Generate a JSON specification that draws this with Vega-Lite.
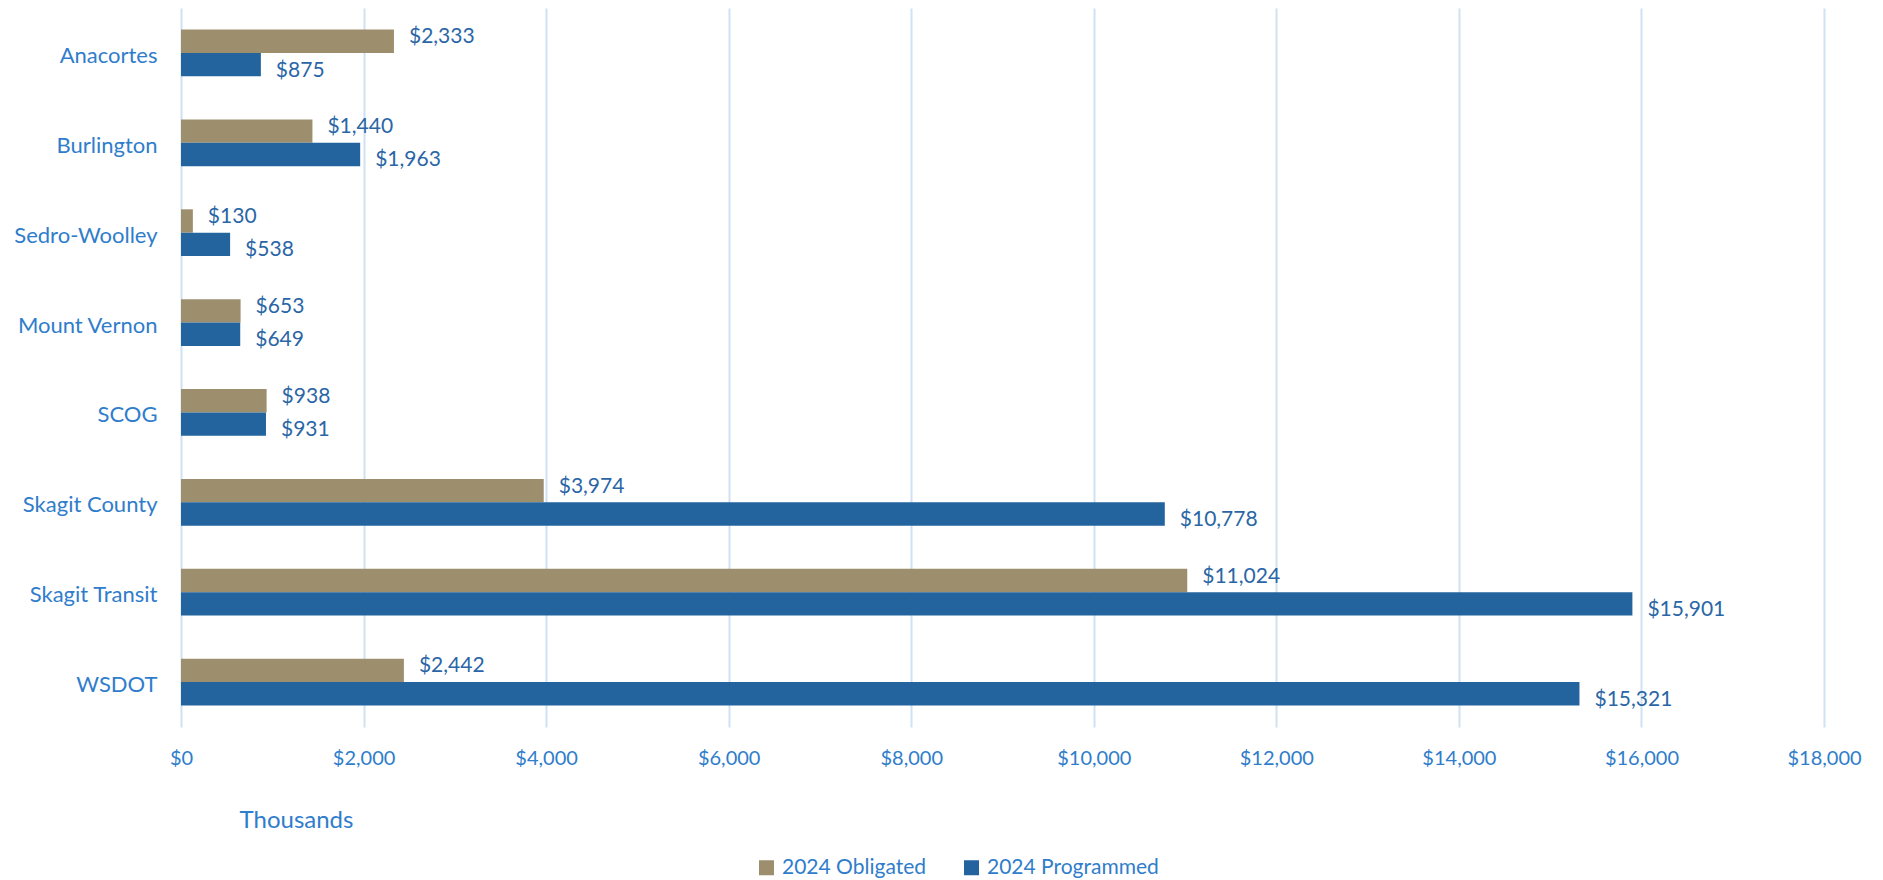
{
  "$schema": "https://vega.github.io/schema/vega-lite/v6.json",
  "width": 1643,
  "height": 719,
  "autosize": {"type": "none"},
  "padding": {"left": 181, "top": 8, "right": 59, "bottom": 153},
  "background": "#ffffff",
  "config": {
    "view": {"stroke": null},
    "font": "Lato"
  },
  "data": {
    "values": [
      {"agency": "Anacortes", "series": "2024 Obligated", "value": 2333},
      {"agency": "Anacortes", "series": "2024 Programmed", "value": 875},
      {"agency": "Burlington", "series": "2024 Obligated", "value": 1440},
      {"agency": "Burlington", "series": "2024 Programmed", "value": 1963},
      {"agency": "Sedro-Woolley", "series": "2024 Obligated", "value": 130},
      {"agency": "Sedro-Woolley", "series": "2024 Programmed", "value": 538},
      {"agency": "Mount Vernon", "series": "2024 Obligated", "value": 653},
      {"agency": "Mount Vernon", "series": "2024 Programmed", "value": 649},
      {"agency": "SCOG", "series": "2024 Obligated", "value": 938},
      {"agency": "SCOG", "series": "2024 Programmed", "value": 931},
      {"agency": "Skagit County", "series": "2024 Obligated", "value": 3974},
      {"agency": "Skagit County", "series": "2024 Programmed", "value": 10778},
      {"agency": "Skagit Transit", "series": "2024 Obligated", "value": 11024},
      {"agency": "Skagit Transit", "series": "2024 Programmed", "value": 15901},
      {"agency": "WSDOT", "series": "2024 Obligated", "value": 2442},
      {"agency": "WSDOT", "series": "2024 Programmed", "value": 15321}
    ]
  },
  "encoding": {
    "y": {
      "field": "agency",
      "type": "nominal",
      "sort": ["Anacortes", "Burlington", "Sedro-Woolley", "Mount Vernon", "SCOG", "Skagit County", "Skagit Transit", "WSDOT"],
      "scale": {"paddingInner": 0.48, "paddingOuter": 0.24},
      "axis": {
        "title": null,
        "ticks": false,
        "tickSize": 0,
        "domain": false,
        "grid": false,
        "labelPadding": 24,
        "labelOffset": 3,
        "labelFont": "Lato",
        "labelFontSize": 22,
        "labelColor": "#2F7DCB",
        "labelLimit": 300
      }
    },
    "yOffset": {
      "field": "series",
      "type": "nominal",
      "sort": ["2024 Obligated", "2024 Programmed"],
      "scale": {"paddingInner": 0, "paddingOuter": 0}
    },
    "x": {
      "field": "value",
      "type": "quantitative",
      "scale": {"domain": [0, 18000], "nice": false},
      "axis": {
        "values": [0, 2000, 4000, 6000, 8000, 10000, 12000, 14000, 16000, 18000],
        "format": "$,.0f",
        "title": "Thousands",
        "titleX": 115,
        "titleY": 93,
        "titleAlign": "center",
        "titleBaseline": "middle",
        "titleFont": "Lato",
        "titleFontSize": 24,
        "titleFontWeight": "normal",
        "titleColor": "#2F7DCB",
        "ticks": false,
        "tickSize": 0,
        "domain": false,
        "grid": true,
        "gridColor": "#CFE1F4",
        "gridWidth": 2,
        "labelPadding": 21,
        "labelFont": "Lato",
        "labelFontSize": 20,
        "labelColor": "#2F7DCB",
        "labelFlush": false
      }
    }
  },
  "layer": [
    {
      "mark": {"type": "bar"},
      "encoding": {
        "color": {
          "field": "series",
          "type": "nominal",
          "scale": {"domain": ["2024 Obligated", "2024 Programmed"], "range": ["#9D8F6E", "#23649E"]},
          "legend": {
            "title": null,
            "orient": "none",
            "direction": "horizontal",
            "legendX": 575,
            "legendY": 849,
            "symbolType": "square",
            "symbolSize": 225,
            "symbolStrokeWidth": 0,
            "labelFont": "Lato",
            "labelFontSize": 21,
            "labelColor": "#2F7DCB",
            "labelOffset": 5,
            "labelLimit": 400,
            "columnPadding": 34
          }
        }
      }
    },
    {
      "transform": [{"filter": "datum.series == '2024 Obligated'"}],
      "mark": {"type": "text", "align": "left", "baseline": "middle", "dx": 15, "dy": -4, "font": "Lato", "fontSize": 21, "color": "#2A66A6"},
      "encoding": {
        "text": {"field": "value", "type": "quantitative", "format": "$,.0f"}
      }
    },
    {
      "transform": [{"filter": "datum.series == '2024 Programmed'"}],
      "mark": {"type": "text", "align": "left", "baseline": "middle", "dx": 15, "dy": 6, "font": "Lato", "fontSize": 21, "color": "#2A66A6"},
      "encoding": {
        "text": {"field": "value", "type": "quantitative", "format": "$,.0f"}
      }
    }
  ]
}
